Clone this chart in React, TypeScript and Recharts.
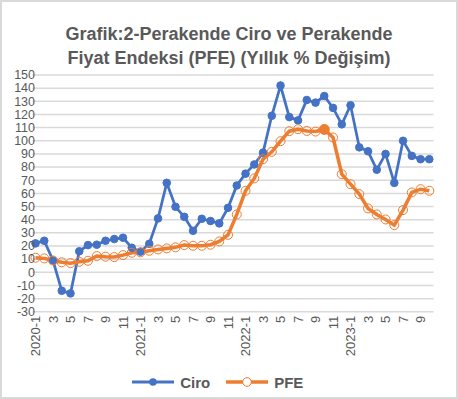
import React from 'react';
import { LineChart, Line, XAxis, YAxis, CartesianGrid, Legend } from 'recharts';

const months = [
  '2020-1', '2', '3', '4', '5', '6', '7', '8', '9', '10', '11', '12',
  '2021-1', '2', '3', '4', '5', '6', '7', '8', '9', '10', '11', '12',
  '2022-1', '2', '3', '4', '5', '6', '7', '8', '9', '10', '11', '12',
  '2023-1', '2', '3', '4', '5', '6', '7', '8', '9', '10',
];

const ciro = [
  22, 24, 9, -14, -16, 16, 20.7, 21, 24, 25.3, 26.3, 18.7,
  15.7, 21.7, 41, 68, 49.8, 42.2, 31.6, 40.7, 39, 37.2, 49, 66,
  75, 82, 91, 119, 142, 118, 115.5, 131, 129, 134, 125, 112.5,
  127, 95, 92, 78, 90, 68, 100, 88.5, 86, 86,
];

const pfe = [
  11.1, 10.6, 9, 7.6, 7, 8, 8.8, 12.4, 11.9, 11.6, 13.1, 14.9,
  15.2, 16.4, 17.4, 18.2, 19, 20.7, 20.2, 20.2, 21, 23.5, 28.5, 44,
  62, 71.4, 86, 91.6, 99.7, 107.3, 108.8, 107.5, 107, 108.6, 102.5, 74.6,
  67, 59.5, 48.6, 44, 40.2, 35.9, 47.3, 60.7, 63.2, 62,
];

const yTicks = [-30, -20, -10, 0, 10, 20, 30, 40, 50, 60, 70, 80, 90, 100, 110, 120, 130, 140, 150];
const Y_MIN = -30;
const Y_MAX = 150;

// the one PFE point Excel drew with a solid marker (2022-10)
const highlightedIdx = 33;

const data = months.map((m, i) => ({ month: m, idx: i, Ciro: ciro[i], PFE: pfe[i] }));

const FONT = '"Liberation Sans", Arial, sans-serif';
const TEXT = '#595959';
const GRID = '#D9D9D9';
const BLUE = '#4472C4';
const ORANGE = '#ED7D31';

const W = 458;
const H = 399;
const M = { top: 75, right: 24.5, left: 0, bottom: 5 };
const Y_W = 32.5;
const X_H = 58.2;
const LEG_H = 24;
const PAD = { left: 3, right: 4.2 };
const plotH = H - M.top - M.bottom - X_H - LEG_H;
const step = (W - M.left - M.right - Y_W - PAD.left - PAD.right) / (months.length - 1);

const XTick = (props: any) => {
  const { x, y, payload } = props;
  return (
    <text
      transform={`translate(${x + 4.5},${y + 4}) rotate(-90)`}
      textAnchor="end" fontSize={13} fill={TEXT} fontFamily={FONT}
    >
      {payload.value}
    </text>
  );
};

// small category-axis tick marks crossing at 0, every 5 categories (between categories)
const ZeroMark = (props: any) => {
  const { x, y, index } = props;
  if (index % 5 !== 4) return <g />;
  const zeroY = y + (Y_MAX / (Y_MAX - Y_MIN)) * plotH;
  const bx = x + step / 2;
  return <line x1={bx} x2={bx} y1={zeroY} y2={zeroY + 5} stroke={GRID} strokeWidth={1.2} />;
};

const YTick = (props: any) => {
  const { y, payload } = props;
  return (
    <text x={35} y={y + 4.3} textAnchor="end" fontSize={12.5} fill={TEXT} fontFamily={FONT}>
      {payload.value}
    </text>
  );
};

const PfeDot = (props: any) => {
  const { cx, cy, index, payload } = props;
  if (cx == null || cy == null) return <g key={index} />;
  if (payload.idx === highlightedIdx) {
    return <circle key={index} cx={cx} cy={cy} r={5} fill={ORANGE} stroke={ORANGE} strokeWidth={1} />;
  }
  return <circle key={index} cx={cx} cy={cy} r={4.5} fill="none" stroke={ORANGE} strokeWidth={1} />;
};

const LegendContent = () => (
  <div style={{ height: LEG_H, display: 'flex', justifyContent: 'center', alignItems: 'center', fontFamily: FONT }}>
    <svg width={46} height={12} style={{ marginRight: 4 }}>
      <line x1={2} y1={6} x2={44} y2={6} stroke={BLUE} strokeWidth={3} />
      <circle cx={23} cy={6} r={3.8} fill={BLUE} />
    </svg>
    <span style={{ fontSize: 15, fontWeight: 'bold', color: TEXT, marginRight: 14 }}>Ciro</span>
    <svg width={46} height={12} style={{ marginRight: 4 }}>
      <line x1={2} y1={6} x2={44} y2={6} stroke={ORANGE} strokeWidth={3.5} />
      <circle cx={23} cy={6} r={4.3} fill="#fff" stroke={ORANGE} strokeWidth={1} />
    </svg>
    <span style={{ fontSize: 15, fontWeight: 'bold', color: TEXT }}>PFE</span>
  </div>
);

export default function App() {
  return (
    <div style={{ position: 'absolute', left: 0, top: 0, width: W, height: H, background: '#fff' }}>
      <div
        style={{
          position: 'absolute', left: 0, top: 22, width: W, textAlign: 'center',
          fontFamily: FONT, fontWeight: 'bold', fontSize: 18, lineHeight: '24px', color: TEXT,
        }}
      >
        Grafik:2-Perakende Ciro ve Perakende
        <br />
        Fiyat Endeksi (PFE) (Yıllık % Değişim)
      </div>
      <div style={{ position: 'absolute', left: 0, top: 0 }}>
        <LineChart width={W} height={H} data={data} margin={M}>
          <CartesianGrid vertical={false} stroke={GRID} strokeWidth={1.5} />
          <XAxis
            dataKey="month" interval={1} axisLine={false} tickLine={false} height={X_H}
            tickSize={0} tickMargin={0} tick={<XTick />} padding={PAD}
          />
          <XAxis
            xAxisId="marks" orientation="top" dataKey="month" interval={0} height={0}
            axisLine={false} tickLine={false} tickSize={0} tickMargin={0}
            tick={<ZeroMark />} padding={PAD}
          />
          <YAxis
            width={Y_W} domain={[Y_MIN, Y_MAX]} ticks={yTicks} interval={0}
            axisLine={false} tickLine={false} tick={<YTick />}
          />
          <Legend verticalAlign="bottom" content={<LegendContent />} wrapperStyle={{ height: LEG_H }} />
          <Line
            dataKey="Ciro" stroke={BLUE} strokeWidth={2.75} isAnimationActive={false}
            dot={{ r: 3.8, fill: BLUE, stroke: BLUE, strokeWidth: 1 }}
          />
          <Line
            dataKey="PFE" stroke={ORANGE} strokeWidth={3.5} isAnimationActive={false}
            dot={<PfeDot />}
          />
        </LineChart>
      </div>
      <div
        style={{
          position: 'absolute', left: 0, top: 0, width: W, height: H, boxSizing: 'border-box',
          border: `2px solid ${GRID}`, pointerEvents: 'none',
        }}
      />
    </div>
  );
}
